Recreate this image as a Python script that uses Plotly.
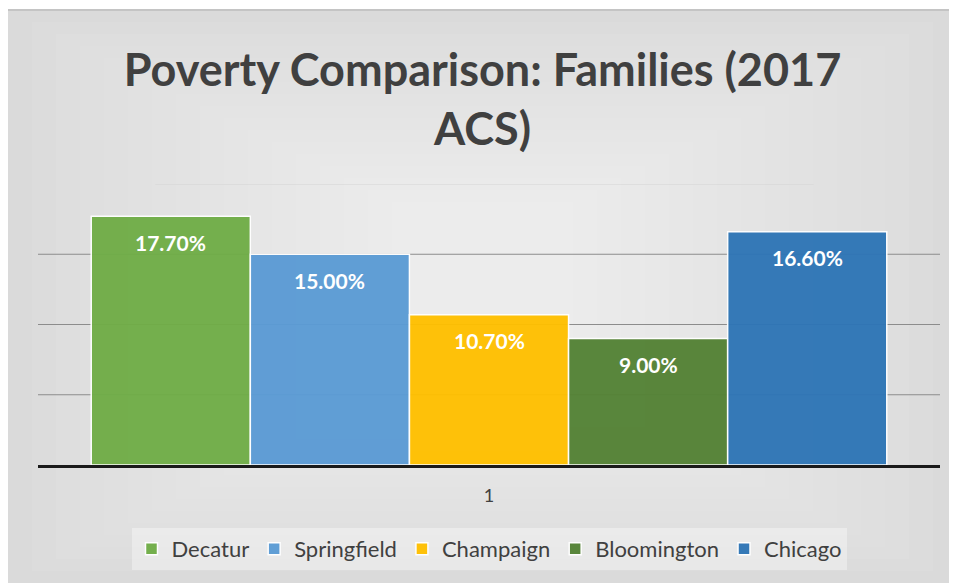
import plotly.graph_objects as go

categories = ["1"]
cities = ["Decatur", "Springfield", "Champaign", "Bloomington", "Chicago"]
values = [17.7, 15.0, 10.7, 9.0, 16.6]
colors = ["#70ad47", "#5b9bd5", "#ffc000", "#548235", "#2e75b6"]
grid_vals = [5, 10, 15, 20]

# page has an 8px body margin -> figure sized to fit the window
W, H = 949, 575
ML, MR, MT, MB = 30, 17, 176, 118
PW, PH = W - ML - MR, H - MT - MB
bargap = 0.118


def px(x):
    return (x - ML) / PW


def py(y):
    return (H - MB - y) / PH


fig = go.Figure()
for name, v, c in zip(cities, values, colors):
    fig.add_trace(go.Bar(
        x=categories, y=[v], name=name,
        marker=dict(color=c, line=dict(color="white", width=1.5)),
        opacity=0.96,
        hoverinfo="skip",
    ))

# data labels
n = len(cities)
w = (1 - bargap) / n
annotations = []
for i, v in enumerate(values):
    annotations.append(dict(
        x=(i - (n - 1) / 2) * w, y=v, xref="x", yref="y",
        text=f"{v:.2f}%", showarrow=False, yshift=-26,
        font=dict(family="Lato", size=21, color="white", weight="bold"),
    ))

# frame / background
fig.add_shape(type="rect", xref="paper", yref="paper", layer="below",
              x0=px(-2), x1=px(W + 5), y0=py(H + 5), y1=py(2),
              fillcolor="#dadada", line=dict(color="#c4c4c4", width=2))
# pseudo gradient (lighter toward centre)
steps = 16
for k in range(1, steps + 1):
    ix = 24 * k
    iy = 12 * k
    fig.add_shape(type="rect", xref="paper", yref="paper", layer="below",
                  x0=px(ix), x1=px(W - ix), y0=py(H - iy), y1=py(2 + iy),
                  fillcolor="rgba(255,255,255,0.06)", line=dict(width=0))

# gridlines
for g in grid_vals:
    col = "#d4d4d4" if g == 20 else "#8c8c8c"
    x0, x1 = (0, 1) if g != 20 else (0.13, 0.86)
    fig.add_shape(type="line", xref="paper", yref="y", layer="below",
                  x0=x0, x1=x1, y0=g, y1=g, line=dict(color=col, width=1.2))

fig.update_layout(
    width=W, height=H,
    margin=dict(l=ML, r=MR, t=MT, b=MB),
    paper_bgcolor="white",
    plot_bgcolor="rgba(0,0,0,0)",
    barmode="group",
    bargap=bargap,
    bargroupgap=0,
    title=dict(
        text="Poverty Comparison: Families (2017<br>ACS)",
        x=0.5, xanchor="center", y=1 - 78 / H, yanchor="middle",
        font=dict(family="Lato", size=45, color="#404040", weight="bold"),
    ),
    xaxis=dict(
        type="category", showgrid=False, showline=True, linecolor="#1a1a1a",
        linewidth=3, ticks="", ticklabelstandoff=12,
        tickfont=dict(family="Lato", size=18, color="#404040"),
    ),
    yaxis=dict(range=[0, 20], showgrid=False, showticklabels=False,
               zeroline=False, showline=False, fixedrange=True),
    legend=dict(
        orientation="h", x=0.5, xanchor="center", y=py(549 - 8),
        yanchor="middle", bgcolor="rgba(255,255,255,0.35)",
        font=dict(family="Lato", size=22, color="#404040"),
        itemwidth=30, tracegroupgap=0,
    ),
    annotations=annotations,
    showlegend=True,
)

fig.write_html("out.html")
